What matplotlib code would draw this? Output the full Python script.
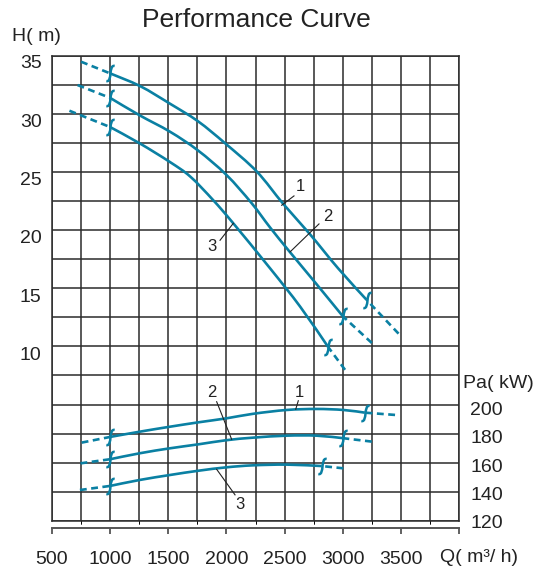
import matplotlib
matplotlib.use("Agg")
import matplotlib.pyplot as plt
from matplotlib.path import Path
from matplotlib.patches import PathPatch
import numpy as np

plt.rcParams['font.family'] = ['Liberation Sans', 'DejaVu Sans']

# head curves (Q in m3/h, H in m): solid part, then the dashed extension ends
Q_H1 = [1000, 1260, 1515, 1755, 1990, 2260, 2490, 2720, 2960, 3205]
H1 = [34.0, 32.9, 31.4, 29.9, 28.0, 25.6, 22.8, 20.2, 17.3, 14.6]
H1_EXT = ([750, 3480], [35.0, 11.7])

Q_H2 = [1000, 1255, 1515, 1755, 2000, 2215, 2375, 2545, 2770, 3000]
H2 = [31.9, 30.4, 29.0, 27.4, 25.3, 22.9, 20.8, 18.7, 16.0, 13.2]
H2_EXT = ([720, 3250], [33.0, 10.9])

Q_H3 = [1000, 1255, 1515, 1690, 1885, 2055, 2375, 2635, 2875]
H3 = [29.4, 28.0, 26.4, 25.15, 23.15, 21.2, 17.3, 14.0, 10.55]
H3_EXT = ([650, 3020], [30.8, 8.6])

# shaft power curves (Pa in kW)
Q_P1 = [1000, 1255, 1515, 1760, 2000, 2230, 2520, 2775, 3005, 3190]
P1 = [181.3, 185.0, 188.5, 191.6, 194.4, 197.6, 200.3, 201.0, 200.3, 198.4]
P1_EXT = ([755, 3450], [177.3, 196.8])

Q_P2 = [1000, 1255, 1515, 1760, 2000, 2230, 2520, 2775, 3005]
P2 = [165.6, 169.8, 173.3, 176.1, 179.0, 180.8, 182.2, 182.2, 180.4]
P2_EXT = ([745, 3250], [162.7, 178.0])

Q_P3 = [1000, 1255, 1515, 1760, 2000, 2230, 2520, 2820]
P3 = [146.8, 151.0, 154.5, 157.5, 159.9, 161.3, 161.8, 160.8]
P3_EXT = ([740, 3005], [143.9, 159.2])

Q_TICKS = [500, 1000, 1500, 2000, 2500, 3000, 3500, 4000]
Q_LABELS = ['500', '1000', '1500', '2000', '2500', '3000', '3500', '']
H_TICKS = [10, 15, 20, 25, 30, 35]
P_TICKS = [120, 140, 160, 180, 200]

# curve numbers: (text, text pos, leader start, leader end)
H_NAMES = [('1', (2633, 24.3), (2581, 23.5), (2475, 22.7)),
           ('2', (2876, 21.7), (2796, 21.1), (2547, 18.7)),
           ('3', (1879, 19.2), (1945, 19.7), (2059, 21.15))]
P_NAMES = [('1', (2627, 212.7), (2618, 206.8), (2596, 200.8)),
           ('2', (1873, 212.7), (1916, 206.1), (2045, 179.6)),
           ('3', (2117, 133.4), (2074, 140.5), (1916, 158.5))]

W, HGT = 535, 573
TEAL = '#0a80a3'
INK = '#222222'
GRID = '#2b2b2b'


def fx(x):
    return x / W


def fy(y):
    return 1 - y / HGT


# break mark drawn where the solid curve ends
brk = Path([(0.55, 1.0), (0.1, 1.1), (0.06, 0.5), (0.0, 0.0),
            (-0.06, -0.5), (-0.1, -1.1), (-0.55, -1.0)],
           [Path.MOVETO, Path.CURVE4, Path.CURVE4, Path.CURVE4,
            Path.CURVE4, Path.CURVE4, Path.CURVE4])


def smooth_path(q, v):
    # Catmull-Rom through the points, written as cubic Bezier segments
    p = np.column_stack([q, v]).astype(float)
    ext = np.vstack([p[0], p, p[-1]])
    verts = [p[0]]
    codes = [Path.MOVETO]
    for i in range(1, len(ext) - 2):
        c1 = ext[i] + (ext[i + 1] - ext[i - 1]) / 6
        c2 = ext[i + 1] - (ext[i + 2] - ext[i]) / 6
        verts += [c1, c2, ext[i + 1]]
        codes += [Path.CURVE4] * 3
    return Path(verts, codes)


fig = plt.figure(figsize=(5.35, 5.73), dpi=100)
rect = [fx(52), fy(520.7), (459 - 52) / W, (520.7 - 56) / HGT]

ax = fig.add_axes(rect)
ax.set_xlim(500, 4000)
ax.set_ylim(0, 16)
ax.set_xticks(Q_TICKS)
ax.set_xticklabels(Q_LABELS)
ax.set_xticks(range(750, 4000, 500), minor=True)
ax.set_yticks(range(0, 17))
ax.grid(which='both', color=GRID, lw=1.1)
ax.axhline(0, color=GRID, lw=1.1, clip_on=False)
ax.tick_params(axis='y', left=False, labelleft=False)
ax.tick_params(axis='x', which='major', direction='out', length=4.5,
               width=1.3, color='#555555', pad=12, labelsize=14,
               labelcolor=INK)
ax.tick_params(axis='x', which='minor', length=0)
for s in ['left', 'top', 'right']:
    ax.spines[s].set_color(GRID)
    ax.spines[s].set_linewidth(1.1)
ax.spines['bottom'].set_position(('outward', 5.5))
ax.spines['bottom'].set_color('#555555')
ax.spines['bottom'].set_linewidth(1.4)

# head axis on the left
hax = fig.add_axes(rect, sharex=ax, facecolor='none')
hax.set_ylim(-4.33, 35.49)
hax.set_yticks(H_TICKS)
hax.tick_params(axis='y', length=0, pad=7.5, labelsize=14, labelcolor=INK)
hax.tick_params(axis='x', bottom=False, labelbottom=False)
for s in hax.spines.values():
    s.set_visible(False)

# power axis, labels on the right
pax = fig.add_axes(rect, sharex=ax, facecolor='none')
pax.set_ylim(122.3, 449.6)
pax.set_yticks([])
pax.tick_params(axis='x', bottom=False, labelbottom=False)
for s in pax.spines.values():
    s.set_visible(False)
for v in P_TICKS:
    pax.annotate(str(v), xy=(1.0, v), xycoords=('axes fraction', 'data'),
                 xytext=(8, 0), textcoords='offset points', ha='left',
                 va='center', fontsize=14, color=INK, annotation_clip=False)


def draw_curve(a, q, v, ext):
    a.add_patch(PathPatch(smooth_path(q, v), fill=False, ec=TEAL, lw=1.9,
                          capstyle='butt', clip_on=False))
    for qe, ve, i in zip(ext[0], ext[1], [0, -1]):
        a.plot([qe, q[i]], [ve, v[i]], color=TEAL, lw=1.9,
               dashes=(2.6, 1.7), clip_on=False)
    a.plot([q[0], q[-1]], [v[0], v[-1]], ls='none', marker=brk,
           ms=12, mfc='none', mec=TEAL, mew=1.8, clip_on=False)


draw_curve(hax, Q_H1, H1, H1_EXT)
draw_curve(hax, Q_H2, H2, H2_EXT)
draw_curve(hax, Q_H3, H3, H3_EXT)
draw_curve(pax, Q_P1, P1, P1_EXT)
draw_curve(pax, Q_P2, P2, P2_EXT)
draw_curve(pax, Q_P3, P3, P3_EXT)

for a, names in [(hax, H_NAMES), (pax, P_NAMES)]:
    for txt, pos, l0, l1 in names:
        a.plot([l0[0], l1[0]], [l0[1], l1[1]], color=INK, lw=0.8)
        a.text(pos[0], pos[1], txt, ha='center', va='center',
               fontsize=12, color=INK)

fig.text(fx(256), fy(20), 'Performance Curve', ha='center', va='center',
         fontsize=19, color=INK)
fig.text(fx(36), fy(36.7), 'H( m)', ha='center', va='center',
         fontsize=14, color=INK)
fig.text(fx(463), fy(383), 'Pa( kW)', ha='left', va='center',
         fontsize=14, color=INK)
fig.text(fx(479), fy(558), 'Q( m³/ h)', ha='center', va='center',
         fontsize=14, color=INK)

fig.savefig('out.png', dpi=100)
